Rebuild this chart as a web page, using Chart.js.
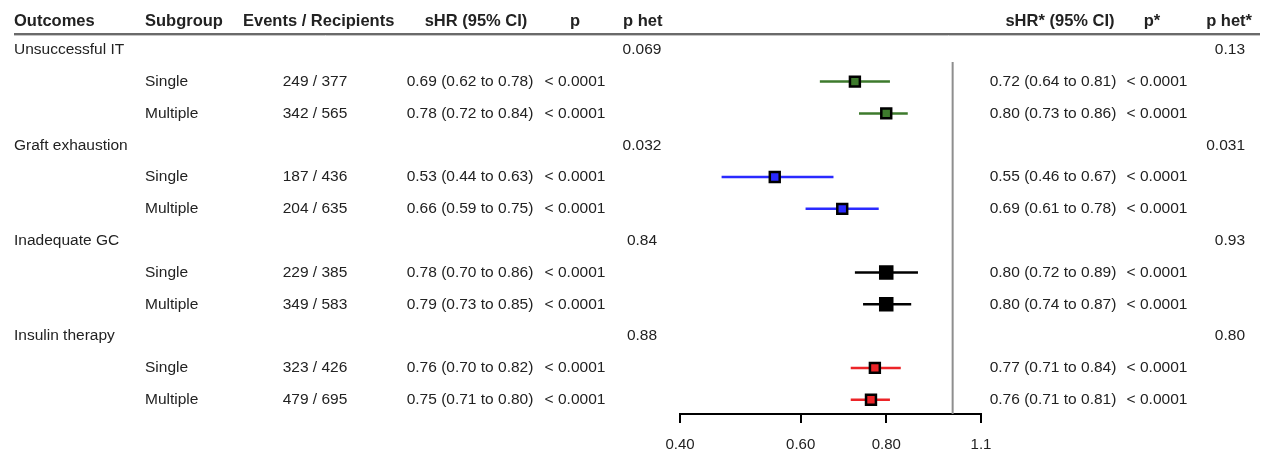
<!DOCTYPE html>
<html>
<head>
<meta charset="utf-8">
<script src="https://cdn.jsdelivr.net/npm/chart.js@4.4.1/dist/chart.umd.min.js"></script>
<style>
  html, body { margin: 0; padding: 0; background: #fff; }
</style>
</head>
<body>
<canvas id="chart" width="1270" height="452"></canvas>
<script>
// table data
const outcomes = ['Unsuccessful IT', 'Graft exhaustion', 'Inadequate GC', 'Insulin therapy'];
const subgroups = ['Single', 'Multiple'];
const eventsRecipients = ['249 / 377', '342 / 565', '187 / 436', '204 / 635', '229 / 385', '349 / 583', '323 / 426', '479 / 695'];

const shr = [0.69, 0.78, 0.53, 0.66, 0.78, 0.79, 0.76, 0.75];
const shrLo = [0.62, 0.72, 0.44, 0.59, 0.70, 0.73, 0.70, 0.71];
const shrHi = [0.78, 0.84, 0.63, 0.75, 0.86, 0.85, 0.82, 0.80];
const pValues = ['< 0.0001', '< 0.0001', '< 0.0001', '< 0.0001', '< 0.0001', '< 0.0001', '< 0.0001', '< 0.0001'];
const pHet = ['0.069', '0.032', '0.84', '0.88'];

// adjusted estimates (these are the ones plotted)
const shrAdj = [0.72, 0.80, 0.55, 0.69, 0.80, 0.80, 0.77, 0.76];
const shrAdjLo = [0.64, 0.73, 0.46, 0.61, 0.72, 0.74, 0.71, 0.71];
const shrAdjHi = [0.81, 0.86, 0.67, 0.78, 0.89, 0.87, 0.84, 0.81];
const pAdj = ['< 0.0001', '< 0.0001', '< 0.0001', '< 0.0001', '< 0.0001', '< 0.0001', '< 0.0001', '< 0.0001'];
const pHetAdj = ['0.13', '0.031', '0.93', '0.80'];

const xTicks = [0.4, 0.6, 0.8, 1.1];
const xTickLabels = ['0.40', '0.60', '0.80', '1.1'];
const refValue = 1;

const groupColors = ['#3d7a2c', '#2a2aff', '#000000', '#ec2428'];
const font = '"Liberation Sans", Arial, sans-serif';
const textColor = '#222';

const columnHeaders = [
  { text: 'Outcomes', x: 14, align: 'left' },
  { text: 'Subgroup', x: 145, align: 'left' },
  { text: 'Events / Recipients', x: 243, align: 'left' },
  { text: 'sHR (95% CI)', x: 476, align: 'center' },
  { text: 'p', x: 575, align: 'center' },
  { text: 'p het', x: 623, align: 'left' },
  { text: 'sHR* (95% CI)', x: 1060, align: 'center' },
  { text: 'p*', x: 1152, align: 'center' },
  { text: 'p het*', x: 1252, align: 'right' }
];

// row 0 = first outcome, then its two subgroups, and so on
function rowOf(k) {
  return Math.floor(k / 2) * 3 + 1 + (k % 2);
}

function ci(v, lo, hi) {
  return `${v.toFixed(2)} (${lo.toFixed(2)} to ${hi.toFixed(2)})`;
}

const whiskers = shrAdj.map((v, k) => ({
  data: [{ x: shrAdjLo[k], y: rowOf(k) }, { x: shrAdjHi[k], y: rowOf(k) }],
  showLine: true,
  borderColor: groupColors[Math.floor(k / 2)],
  borderWidth: 2.5,
  pointRadius: 0,
  order: 2
}));

const markers = {
  data: shrAdj.map((v, k) => ({ x: v, y: rowOf(k) })),
  pointStyle: 'rect',
  pointRadius: shrAdj.map((v, k) => Math.floor(k / 2) === 2 ? 8.5 : 7),
  pointBackgroundColor: shrAdj.map((v, k) => groupColors[Math.floor(k / 2)]),
  pointBorderColor: '#000',
  pointBorderWidth: 2.5,
  order: 0
};

const refLine = {
  data: [{ x: refValue, y: 0.38 }, { x: refValue, y: 11.45 }],
  showLine: true,
  borderColor: '#8e8e8e',
  borderWidth: 2,
  pointRadius: 0,
  order: 3
};

const tablePlugin = {
  id: 'table',
  afterDraw(chart) {
    const ctx = chart.ctx;
    const ys = chart.scales.y;
    ctx.save();
    ctx.textBaseline = 'middle';
    ctx.fillStyle = textColor;

    // headers
    ctx.font = `bold 16.5px ${font}`;
    const hy = ys.getPixelForValue(-0.9);
    columnHeaders.forEach(h => {
      ctx.textAlign = h.align;
      ctx.fillText(h.text, h.x, hy);
    });

    // header rule
    const ry = Math.round(ys.getPixelForValue(-0.5));
    ctx.strokeStyle = '#6a6a6a';
    ctx.lineWidth = 2;
    ctx.beginPath();
    ctx.moveTo(14, ry);
    ctx.lineTo(1260, ry);
    ctx.stroke();
    ctx.strokeStyle = '#c4c4c4';
    ctx.lineWidth = 1;
    ctx.beginPath();
    ctx.moveTo(14, ry + 1.5);
    ctx.lineTo(1260, ry + 1.5);
    ctx.stroke();

    ctx.font = `15.5px ${font}`;
    outcomes.forEach((name, g) => {
      const y = ys.getPixelForValue(g * 3);
      ctx.textAlign = 'left';
      ctx.fillText(name, 14, y);
      ctx.textAlign = 'center';
      ctx.fillText(pHet[g], 642, y);
      ctx.textAlign = 'right';
      ctx.fillText(pHetAdj[g], 1245, y);
    });

    shr.forEach((v, k) => {
      const y = ys.getPixelForValue(rowOf(k));
      ctx.textAlign = 'left';
      ctx.fillText(subgroups[k % 2], 145, y);
      ctx.textAlign = 'center';
      ctx.fillText(eventsRecipients[k], 315, y);
      ctx.fillText(ci(v, shrLo[k], shrHi[k]), 470, y);
      ctx.fillText(pValues[k], 575, y);
      ctx.fillText(ci(shrAdj[k], shrAdjLo[k], shrAdjHi[k]), 1053, y);
      ctx.fillText(pAdj[k], 1157, y);
    });
    ctx.restore();
  }
};

new Chart(document.getElementById('chart'), {
  type: 'scatter',
  data: { datasets: [markers, ...whiskers, refLine] },
  options: {
    responsive: false,
    animation: false,
    layout: { padding: { left: 680, right: 289, top: 18, bottom: 0 } },
    plugins: { legend: { display: false }, tooltip: { enabled: false } },
    scales: {
      x: {
        type: 'logarithmic',
        min: 0.4,
        max: 1.1,
        afterBuildTicks: scale => { scale.ticks = xTicks.map(v => ({ value: v })); },
        afterFit: scale => { scale.height = 38; },
        ticks: {
          callback: (v, i) => xTickLabels[i],
          color: textColor,
          font: { family: font, size: 15 },
          padding: 13,
          maxRotation: 0,
          autoSkip: false
        },
        grid: { drawOnChartArea: false, drawTicks: true, tickLength: 9, color: '#000', lineWidth: 2 },
        border: { display: true, color: '#000', width: 2 }
      },
      y: { type: 'linear', reverse: true, min: -1, max: 11.45, display: false }
    }
  },
  plugins: [tablePlugin]
});
</script>
</body>
</html>
